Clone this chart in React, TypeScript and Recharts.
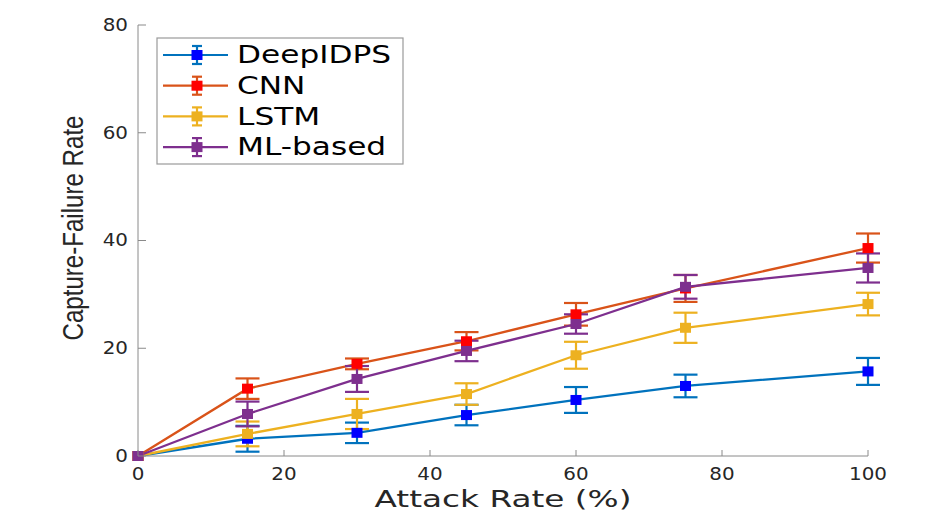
import React from 'react';
import { LineChart, Line, XAxis, YAxis, ErrorBar, Legend } from 'recharts';

const attackRates = [0, 15, 30, 45, 60, 75, 100];
const deepIDPS = [0, 3.2, 4.3, 7.6, 10.4, 13.0, 15.7];
const deepIDPSErr = [0, 2.4, 1.9, 1.9, 2.4, 2.1, 2.5];
const cnn = [0, 12.5, 17.1, 21.3, 26.3, 31.1, 38.6];
const cnnErr = [0, 1.9, 1.0, 1.7, 2.1, 2.5, 2.7];
const lstm = [0, 4.1, 7.8, 11.5, 18.7, 23.8, 28.2];
const lstmErr = [0, 2.3, 2.8, 2.0, 2.5, 2.8, 2.1];
const mlBased = [0, 7.8, 14.3, 19.5, 24.5, 31.4, 34.9];
const mlBasedErr = [0, 2.3, 2.4, 1.9, 1.8, 2.2, 2.7];

const xTicks = [0, 20, 40, 60, 80, 100];
const yTicks = [0, 20, 40, 60, 80];

const seriesNames = ['DeepIDPS', 'CNN', 'LSTM', 'ML-based'];
const seriesKeys = ['deep', 'cnn', 'lstm', 'ml'];
const lineColors = ['#0072BD', '#D95319', '#EDB120', '#7E2F8E'];
const markerColors = ['#0000FF', '#FF0000', '#EDB120', '#7E2F8E'];

const data = attackRates.map((x, i) => ({
  x,
  deep: deepIDPS[i],
  deepErr: deepIDPSErr[i],
  cnn: cnn[i],
  cnnErr: cnnErr[i],
  lstm: lstm[i],
  lstmErr: lstmErr[i],
  ml: mlBased[i],
  mlErr: mlBasedErr[i],
}));

const AXIS = '#8a8a8a';
const TEXT = '#262626';
const FONT = '"DejaVu Sans", sans-serif';
const TM = 10;

const LeftTick = (p: any) => {
  const ax = p.x + TM;
  return (
    <g>
      <line x1={ax} y1={p.y} x2={ax + 8} y2={p.y} stroke={AXIS} />
      <text
        x={0}
        y={0}
        transform={`translate(${p.x},${p.y}) scale(1.17,1)`}
        textAnchor="end"
        dominantBaseline="central"
        fontFamily={FONT}
        fontSize={17}
        fill={TEXT}
      >
        {p.payload.value}
      </text>
    </g>
  );
};

const BottomTick = (p: any) => {
  const ay = p.y - TM;
  return (
    <g>
      <line x1={p.x} y1={ay} x2={p.x} y2={ay - 6} stroke={AXIS} />
      <text
        x={0}
        y={0}
        transform={`translate(${p.x},${ay + 24}) scale(1.17,1)`}
        textAnchor="middle"
        fontFamily={FONT}
        fontSize={17}
        fill={TEXT}
      >
        {p.payload.value}
      </text>
    </g>
  );
};

const RightTick = (p: any) => (
  <line x1={p.x - 8} y1={p.y} x2={p.x} y2={p.y} stroke={AXIS} />
);

const TopTick = (p: any) => (
  <line x1={p.x} y1={p.y} x2={p.x} y2={p.y + 6} stroke={AXIS} />
);

const makeDot = (color: string) => (p: any) => {
  if (p.cx == null || p.cy == null) return <g key={`d-${p.index}`} />;
  return (
    <rect
      key={`d-${color}-${p.index}`}
      x={p.cx - 5.5}
      y={p.cy - 5}
      width={11}
      height={10}
      fill={color}
    />
  );
};

const LegendBox = () => (
  <svg width={248} height={128} style={{ display: 'block' }}>
    <rect x={1} y={1} width={246} height={126} fill="#ffffff" stroke="#9a9a9a" strokeWidth={1.2} />
    {seriesNames.map((name, i) => {
      const cy = 18 + i * 30.7;
      return (
        <g key={name}>
          <line x1={7} y1={cy} x2={72} y2={cy} stroke={lineColors[i]} strokeWidth={2.2} />
          <line x1={41} y1={cy - 9} x2={41} y2={cy + 9} stroke={lineColors[i]} strokeWidth={2.2} />
          <line x1={36} y1={cy - 9} x2={46} y2={cy - 9} stroke={lineColors[i]} strokeWidth={2.2} />
          <line x1={36} y1={cy + 9} x2={46} y2={cy + 9} stroke={lineColors[i]} strokeWidth={2.2} />
          <rect x={35.5} y={cy - 5} width={11} height={10} fill={markerColors[i]} />
          <text
            x={0}
            y={0}
            transform={`translate(81,${cy}) scale(1.3,1)`}
            dominantBaseline="central"
            fontFamily={FONT}
            fontSize={24}
            fill="#000000"
          >
            {name}
          </text>
        </g>
      );
    })}
  </svg>
);

const XLabel = () => (
  <text
    x={503}
    y={507}
    textAnchor="middle"
    fontFamily={FONT}
    fontSize={23}
    fill={TEXT}
    textLength={257}
    lengthAdjust="spacingAndGlyphs"
  >
    Attack Rate (%)
  </text>
);

const YLabel = () => (
  <text
    x={83}
    y={228}
    transform="rotate(-90, 83, 228)"
    textAnchor="middle"
    fontFamily='"Liberation Sans", sans-serif'
    fontSize={29}
    fill={TEXT}
    textLength={225}
    lengthAdjust="spacingAndGlyphs"
  >
    Capture-Failure Rate
  </text>
);

export default function App() {
  return (
    <div style={{ position: 'absolute', left: 0, top: 0, width: 944, height: 513, background: '#ffffff' }}>
      <LineChart
        width={944}
        height={513}
        data={data}
        margin={{ top: 25, right: 76, bottom: 0, left: 0 }}
      >
        <XAxis
          dataKey="x"
          type="number"
          domain={[0, 100]}
          ticks={xTicks}
          height={57}
          tickSize={0}
          tickMargin={TM}
          tickLine={false}
          axisLine={{ stroke: AXIS }}
          tick={BottomTick}
          label={{ content: XLabel }}
        />
        <XAxis
          xAxisId="top"
          orientation="top"
          dataKey="x"
          type="number"
          domain={[0, 100]}
          ticks={xTicks}
          height={0}
          tickSize={0}
          tickMargin={0}
          tickLine={false}
          axisLine={{ stroke: AXIS }}
          tick={TopTick}
        />
        <YAxis
          type="number"
          domain={[0, 80]}
          ticks={yTicks}
          width={138}
          tickSize={0}
          tickMargin={TM}
          tickLine={false}
          axisLine={{ stroke: AXIS }}
          tick={LeftTick}
          label={{ content: YLabel }}
        />
        <YAxis
          yAxisId="right"
          orientation="right"
          type="number"
          domain={[0, 80]}
          ticks={yTicks}
          width={0}
          tickSize={0}
          tickMargin={0}
          tickLine={false}
          axisLine={{ stroke: AXIS }}
          tick={RightTick}
        />
        {seriesKeys.map((k, i) => (
          <Line
            key={k}
            dataKey={k}
            name={seriesNames[i]}
            stroke={lineColors[i]}
            strokeWidth={2.3}
            dot={makeDot(markerColors[i])}
            activeDot={false}
            isAnimationActive={false}
          >
            <ErrorBar
              dataKey={`${k}Err`}
              direction="y"
              width={12}
              stroke={lineColors[i]}
              strokeWidth={2.2}
              isAnimationActive={false}
            />
          </Line>
        ))}
        <Legend
          layout="vertical"
          align="center"
          verticalAlign="middle"
          content={LegendBox}
          wrapperStyle={{ left: 156, top: 37, width: 248, height: 128 }}
        />
      </LineChart>
    </div>
  );
}
